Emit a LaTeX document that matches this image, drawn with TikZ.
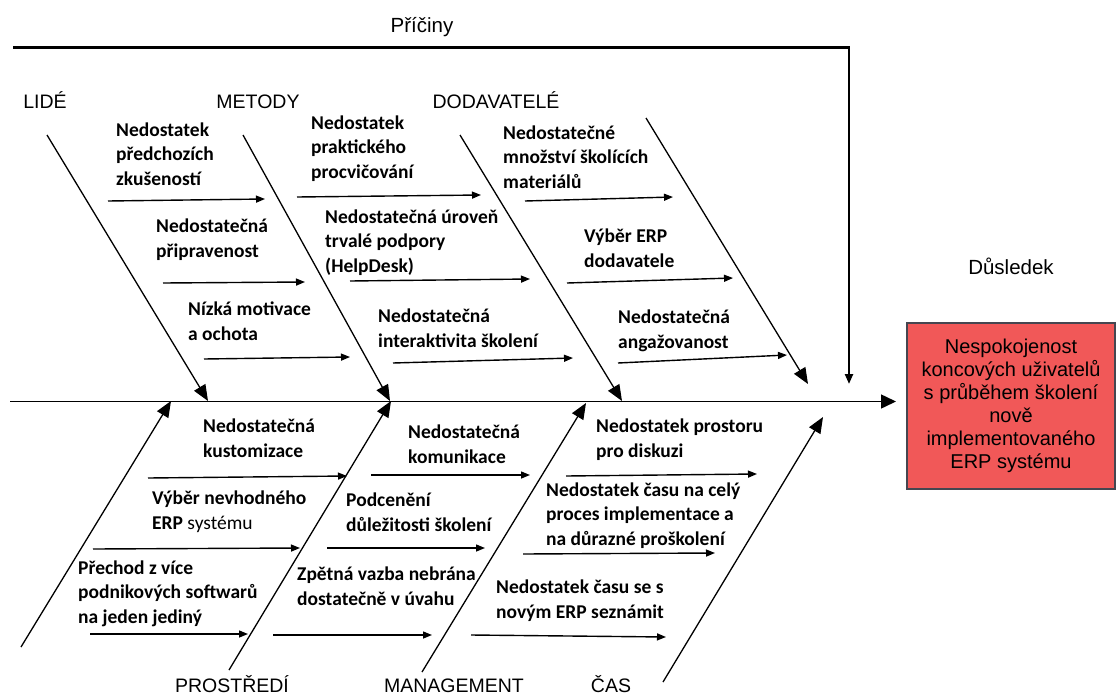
\documentclass[tikz,border=0pt]{standalone}
\usepackage{fontspec}
\setmainfont{Carlito}
\newfontfamily\headfont{Liberation Sans}
\usetikzlibrary{arrows.meta}

\definecolor{effectred}{RGB}{241,88,88}
\definecolor{effectborder}{RGB}{70,70,80}

\begin{document}
\begin{tikzpicture}[x=1pt,y=-1pt,
  bone/.style={line width=1.3pt,-{Triangle[length=16pt,width=13pt]}},
  twig/.style={line width=1.4pt,-{Triangle[length=9pt,width=7pt]}},
  spine/.style={line width=1.5pt,-{Triangle[length=15pt,width=14pt]}},
  frame/.style={line width=2.2pt,-{Triangle[length=10pt,width=8pt]}},
  % cause texts are placed by the baseline of their last line
  cause/.style={font=\fontsize{19.5}{24.5}\selectfont\bfseries,align=left,anchor=base west,inner sep=0pt},
  cat/.style={font=\headfont\fontsize{19.5}{23}\selectfont,anchor=base,inner sep=0pt},
  head/.style={font=\headfont\fontsize{20.5}{23}\selectfont,anchor=base,inner sep=0pt},
  effectbox/.style={draw=effectborder,line width=1.2pt,fill=effectred,
    minimum width=208pt,minimum height=166pt,inner sep=0pt,align=center,
    font=\headfont\fontsize{20}{23}\selectfont}]

\path[use as bounding box] (0,0) rectangle (1119,696);

% headings and effect
\node[head] (causes) at (422,32) {Příčiny};
\node[head] (consequence) at (1011,274) {Důsledek};
\node[effectbox] (effect) at (1011,406) {Nespokojenost\\koncových uživatelů\\s průběhem školení\\nově\\implementovaného\\ERP systému};

% frame over the causes
\coordinate (f1) at (13,47.5);
\coordinate (f2) at (849,47.5);
\coordinate (f3) at (849,384);
\draw[frame] (f1) -- (f2) -- (f3);

% spine
\coordinate (s0) at (10,401.5);
\coordinate (s1) at (896,401.5);
\draw[spine] (s0) -- (s1);

% category labels
\node[cat] (lide) at (45,108) {LIDÉ};
\node[cat] (metody) at (258,108) {METODY};
\node[cat] (dodavatele) at (496,108) {DODAVATELÉ};
\node[cat] (prostredi) at (232,692) {PROSTŘEDÍ};
\node[cat] (management) at (454,692) {MANAGEMENT};
\node[cat] (cas) at (611,692) {ČAS};

% upper bones
\coordinate (L1a) at (47,135);  \coordinate (L1b) at (208,401);
\coordinate (L2a) at (243,135); \coordinate (L2b) at (390,401);
\coordinate (L3a) at (460,135); \coordinate (L3b) at (622,401);
\coordinate (L4a) at (646,118); \coordinate (L4b) at (808,384);
\draw[bone] (L1a) -- (L1b);
\draw[bone] (L2a) -- (L2b);
\draw[bone] (L3a) -- (L3b);
\draw[bone] (L4a) -- (L4b);

% lower bones
\coordinate (B1a) at (21,647);  \coordinate (B1b) at (171,401);
\coordinate (B2a) at (229,670); \coordinate (B2b) at (391,401);
\coordinate (B3a) at (422,672); \coordinate (B3b) at (586,403);
\coordinate (B4a) at (663,682); \coordinate (B4b) at (823,417);
\draw[bone] (B1a) -- (B1b);
\draw[bone] (B2a) -- (B2b);
\draw[bone] (B3a) -- (B3b);
\draw[bone] (B4a) -- (B4b);

% LIDÉ causes
\node[cause] (a1) at (116,185) {Nedostatek\\předchozích\\zkušeností};
\node[cause] (a2) at (156,257) {Nedostatečná\\připravenost};
\node[cause] (a3) at (188,340) {Nízká motivace\\a ochota};
\coordinate (a1s) at (108,201); \coordinate (a1e) at (265,199);
\coordinate (a2s) at (163,283); \coordinate (a2e) at (305,282);
\coordinate (a3s) at (204,359); \coordinate (a3e) at (350,357);
\draw[twig] (a1s) -- (a1e);
\draw[twig] (a2s) -- (a2e);
\draw[twig] (a3s) -- (a3e);

% METODY causes
\node[cause] (m1) at (311,178) {Nedostatek\\praktického\\procvičování};
\node[cause] (m2) at (325,272) {Nedostatečná úroveň\\trvalé podpory\\(HelpDesk)};
\node[cause] (m3) at (378,347) {Nedostatečná\\interaktivita školení};
\coordinate (m1s) at (297,197); \coordinate (m1e) at (481,195);
\coordinate (m2s) at (350,281); \coordinate (m2e) at (530,279);
\coordinate (m3s) at (393,363); \coordinate (m3e) at (573,358);
\draw[twig] (m1s) -- (m1e);
\draw[twig] (m2s) -- (m2e);
\draw[twig] (m3s) -- (m3e);

% DODAVATELÉ causes
\node[cause] (d1) at (503,188) {Nedostatečné\\množství školících\\materiálů};
\node[cause] (d2) at (584,267) {Výběr ERP\\dodavatele};
\node[cause] (d3) at (618,348) {Nedostatečná\\angažovanost};
\coordinate (d1s) at (525,201); \coordinate (d1e) at (673,197);
\coordinate (d2s) at (567,283); \coordinate (d2e) at (733,278);
\coordinate (d3s) at (618,363); \coordinate (d3e) at (787,355);
\draw[twig] (d1s) -- (d1e);
\draw[twig] (d2s) -- (d2e);
\draw[twig] (d3s) -- (d3e);

% PROSTŘEDÍ causes
\node[cause] (p1) at (203,457) {Nedostatečná\\kustomizace};
\node[cause] (p2) at (152,529) {Výběr nevhodného\\ERP {\mdseries systému}};
\node[cause] (p3) at (78,623) {Přechod z více\\podnikových softwarů\\na jeden jediný};
\coordinate (p1s) at (148,478); \coordinate (p1e) at (347,476);
\coordinate (p2s) at (93,549);  \coordinate (p2e) at (300,548);
\coordinate (p3s) at (90,634);  \coordinate (p3e) at (248,634);
\draw[twig] (p1s) -- (p1e);
\draw[twig] (p2s) -- (p2e);
\draw[twig] (p3s) -- (p3e);

% MANAGEMENT causes
\node[cause] (g1) at (408,463) {Nedostatečná\\komunikace};
\node[cause] (g2) at (346,531) {Podcenění\\důležitosti školení};
\node[cause] (g3) at (297,605) {Zpětná vazba nebrána\\dostatečně v úvahu};
\coordinate (g1s) at (371,475); \coordinate (g1e) at (530,475);
\coordinate (g2s) at (327,548); \coordinate (g2e) at (485,548);
\coordinate (g3s) at (273,635); \coordinate (g3e) at (432,635);
\draw[twig] (g1s) -- (g1e);
\draw[twig] (g2s) -- (g2e);
\draw[twig] (g3s) -- (g3e);

% ČAS causes
\node[cause] (c1) at (596,457) {Nedostatek prostoru\\pro diskuzi};
\node[cause] (c2) at (546,545) {Nedostatek času na celý\\proces implementace a\\na důrazné proškolení};
\node[cause] (c3) at (496,618) {Nedostatek času se s\\novým ERP seznámit};
\coordinate (c1s) at (566,476); \coordinate (c1e) at (757,474);
\coordinate (c2s) at (523,554); \coordinate (c2e) at (715,553);
\coordinate (c3s) at (471,635); \coordinate (c3e) at (666,637);
\draw[twig] (c1s) -- (c1e);
\draw[twig] (c2s) -- (c2e);
\draw[twig] (c3s) -- (c3e);

\end{tikzpicture}
\end{document}
